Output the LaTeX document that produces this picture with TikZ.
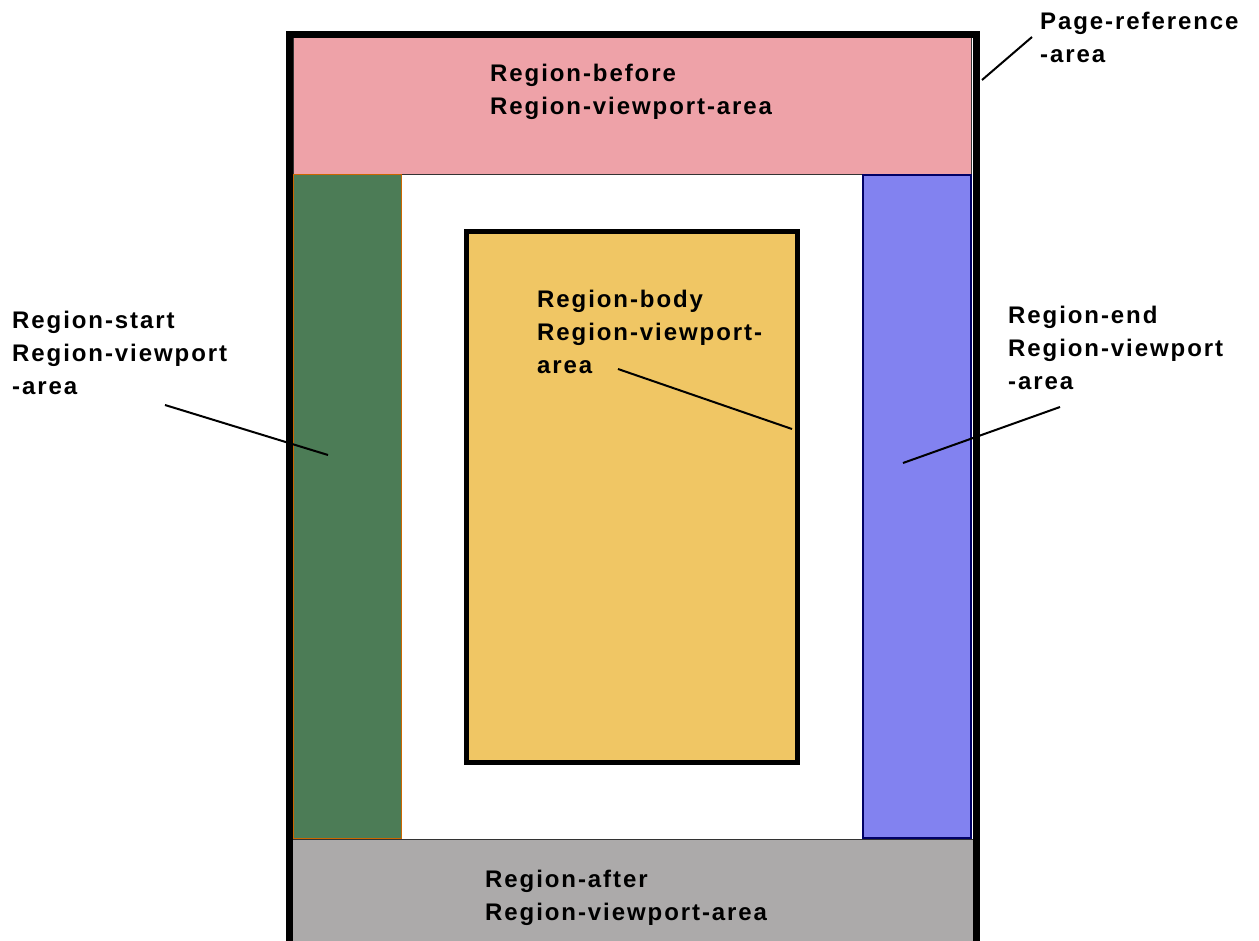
\documentclass[tikz,border=0pt]{standalone}
\usepackage{fontspec}
\setmainfont{Liberation Sans}[LetterSpace=8]
\usetikzlibrary{positioning}

\definecolor{beforefill}{RGB}{238,162,168}
\definecolor{startfill}{RGB}{76,124,86}
\definecolor{endfill}{RGB}{130,130,240}
\definecolor{afterfill}{RGB}{172,170,170}
\definecolor{bodyfill}{RGB}{240,198,100}

\begin{document}
\begin{tikzpicture}[x=1pt, y=-1pt]
    \tikzset{
      region/.style = {rectangle, inner sep=0pt, outer sep=0pt,
      line width=1pt},
      lbl/.style = {anchor=north west, align=left, inner sep=0pt,
      font=\fontsize{24}{33}\selectfont\bfseries},
      leader/.style = {line width=2pt} % thin pointer lines
    }

    \useasboundingbox (0,0) rectangle (1259,941);
    \clip (0,0) rectangle (1259,941);

    % regions of the page
    \node[region, draw=black!80, fill=beforefill, anchor=north west,
      minimum width=678, minimum height=137] (before) at (293,38) {};
    \node[region, draw=orange!80!black, fill=startfill, anchor=north west,
      minimum width=108, minimum height=663] (start) at (before.south west) {};
    \node[region, draw=blue!40!black, line width=1.5pt, fill=endfill,
      anchor=north east, minimum width=108, minimum height=663]
      (end) at (before.south east) {};
    \node[region, draw=black!80, fill=afterfill, anchor=north west,
      minimum width=687, minimum height=130] (after) at (289,839) {};
    \node[region, draw, line width=5pt, fill=bodyfill, anchor=north west,
      minimum width=331, minimum height=530] (body) at (466,232) {};

    % page-reference-area
    \draw[line width=7pt] (289,35) rectangle (976,990);

    \node[lbl] (beforelbl) at (490,64) {Region-before\\Region-viewport-area};
    \node[lbl] (afterlbl) at (485,870) {Region-after\\Region-viewport-area};
    \node[lbl] (pagelbl) at (1040,12) {Page-reference\\-area};
    \node[lbl] (startlbl) at (12,311) {Region-start\\Region-viewport\\-area};
    \node[lbl] (endlbl) at (1008,306) {Region-end\\Region-viewport\\-area};
    \node[lbl] (bodylbl) at (537,290) {Region-body\\Region-viewport-\\area};

    \coordinate (pagept) at (982,80);
    \coordinate (startpt) at (328,455);
    \coordinate (endpt) at (903,463);
    \coordinate (bodypt) at (792,429);

    \draw[leader] ([xshift=-8pt, yshift=-25pt]pagelbl.north west) -- (pagept);
    \draw[leader] ([xshift=153pt, yshift=-94pt]startlbl.north west) -- (startpt);
    \draw[leader] ([xshift=52pt, yshift=-101pt]endlbl.north west) -- (endpt);
    \draw[leader] ([xshift=81pt, yshift=-79pt]bodylbl.north west) -- (bodypt);
\end{tikzpicture}
\end{document}
